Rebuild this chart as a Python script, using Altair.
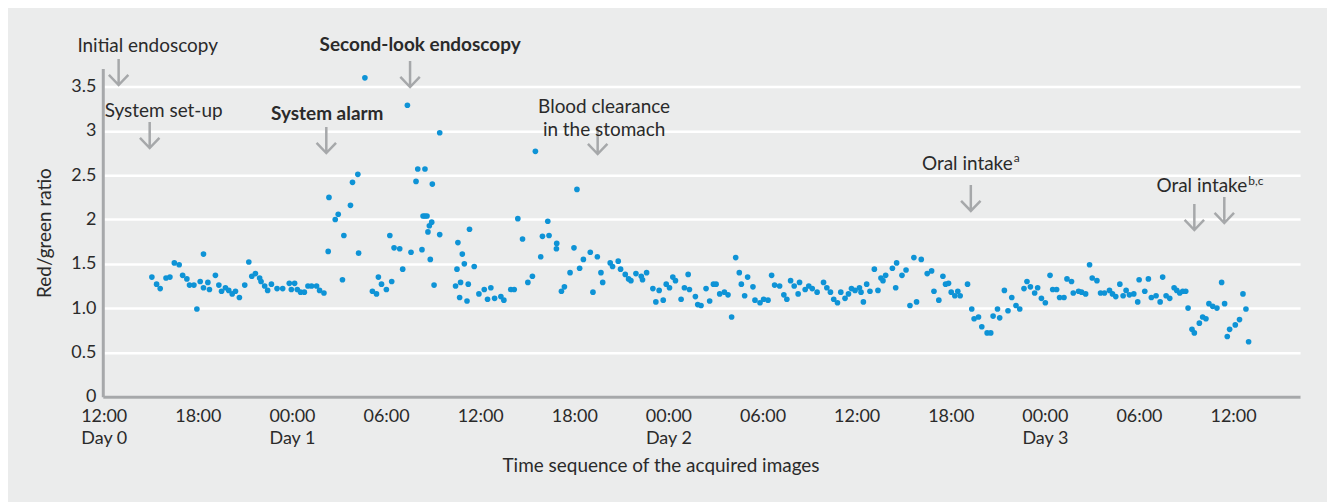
import altair as alt
import pandas as pd

# time since 12:00 on Day 0, in hours
hours = [
    3.07, 3.37, 3.60, 3.97, 4.22, 4.50, 4.81, 5.03, 5.30, 5.47,
    5.75, 5.94, 6.15, 6.36, 6.36, 6.64, 6.74, 7.12, 7.34, 7.51,
    7.76, 7.97, 8.19, 8.40, 8.65, 8.99, 9.25, 9.44, 9.67, 9.94,
    10.03, 10.26, 10.45, 10.69, 11.05, 11.41, 11.83, 11.96, 12.17, 12.34,
    12.55, 12.79, 13.02, 13.25, 13.57, 13.76, 14.04, 14.31,
    14.36, 14.76, 14.95, 15.22, 15.31, 15.73, 15.86, 16.20, 16.25, 16.65,
    17.13, 17.39, 17.51, 17.71, 18.02, 18.24, 18.36, 18.51, 18.87, 19.06,
    19.36, 19.59, 19.91, 20.02, 20.29, 20.36, 20.48, 20.48, 20.61, 20.67,
    20.76, 20.82, 20.91, 20.95, 21.06, 21.42, 21.42, 22.43, 22.52, 22.58,
    22.69, 22.75, 22.86, 22.99, 23.16, 23.24, 23.32, 23.62, 23.92, 24.26,
    24.47, 24.68, 24.92,
    25.32, 25.51, 25.95, 26.17, 26.40, 26.70, 27.04, 27.33, 27.52, 27.86,
    27.97, 28.31, 28.39, 28.88, 28.86, 29.18, 29.37, 29.73, 29.98, 30.17,
    30.34, 30.58, 31.02, 31.19, 31.47, 31.70, 31.81, 32.29, 32.44, 32.80,
    32.95, 33.25, 33.46, 33.61, 33.93, 34.27, 34.35, 34.61,
    35.01, 35.20, 35.41, 35.67, 35.86, 36.07, 36.28, 36.45, 36.81, 37.02,
    37.26, 37.34, 37.72, 37.87, 38.08, 38.40, 38.63, 38.87, 39.04, 39.27,
    39.57, 39.80, 40.03, 40.29, 40.52, 40.65, 40.86, 41.05, 41.39, 41.52,
    41.84, 42.07, 42.35, 42.58, 42.77, 43.09, 43.36, 43.55, 43.79, 44.02,
    44.27, 44.36, 44.72, 44.95, 45.17, 45.48,
    45.89, 46.10, 46.33, 46.54, 46.78, 46.99, 47.26, 47.48, 47.67, 47.90,
    48.18, 48.28, 48.43, 48.64, 48.85, 49.13, 49.36, 49.55, 49.68, 49.85,
    50.28, 50.49, 50.55, 50.89, 51.15, 51.40, 51.65, 51.82, 52.12, 52.50,
    52.78, 52.93, 53.24, 53.50, 53.67, 53.86, 54.03, 54.26, 54.45, 54.60,
    55.07, 55.34, 55.49, 55.77, 55.98, 56.32, 56.55, 56.70, 56.98,
    57.12, 57.42, 57.65, 57.89, 58.16, 58.40, 58.67, 58.86, 59.08, 59.35,
    59.54, 59.78, 60.03, 60.33, 60.50, 60.75, 60.94, 61.22, 61.41, 61.70,
    61.81, 62.15, 62.34, 62.60, 62.85, 63.02, 63.32, 63.55, 63.80, 64.12,
    64.31, 64.52, 64.78, 64.99, 65.18, 65.39, 65.67, 65.92, 66.01, 66.37,
    66.60, 66.79, 67.09,
    67.35, 67.51, 67.73, 67.96, 68.24, 68.41, 68.60, 68.79, 68.98, 69.13,
    69.38, 69.53, 69.85, 70.06, 70.27, 70.46, 70.70, 70.97, 71.27, 71.46,
    71.63, 71.78, 72.14, 72.41, 72.63, 72.82, 72.99,
]

ratio = [
    1.35, 1.27, 1.22, 1.34, 1.35, 1.51, 1.49, 1.37, 1.33, 1.26,
    1.26, 0.99, 1.30, 1.61, 1.23, 1.29, 1.21, 1.37, 1.26, 1.19,
    1.23, 1.20, 1.16, 1.19, 1.12, 1.26, 1.52, 1.36, 1.39, 1.34,
    1.30, 1.25, 1.20, 1.27, 1.22, 1.22, 1.28, 1.21, 1.28, 1.21,
    1.18, 1.18, 1.25, 1.25, 1.25, 1.20, 1.17, 1.64,
    2.25, 2.00, 2.06, 1.32, 1.82, 2.16, 2.42, 2.51, 1.62, 3.60,
    1.19, 1.16, 1.35, 1.27, 1.21, 1.82, 1.30, 1.68, 1.67, 1.44,
    3.29, 1.63, 2.43, 2.57, 1.66, 2.04, 2.57, 2.04, 2.04, 1.86,
    1.93, 1.55, 1.97, 2.40, 1.26, 2.98, 1.83, 1.25, 1.44, 1.74,
    1.12, 1.29, 1.61, 1.50, 1.08, 1.27, 1.89, 1.47, 1.16, 1.21,
    1.10, 1.23, 1.11,
    1.13, 1.09, 1.21, 1.21, 2.01, 1.78, 1.29, 1.36, 2.77, 1.58,
    1.81, 1.98, 1.82, 1.73, 1.67, 1.19, 1.24, 1.40, 1.68, 2.34,
    1.45, 1.55, 1.63, 1.18, 1.58, 1.40, 1.29, 1.51, 1.47, 1.53,
    1.44, 1.38, 1.33, 1.31, 1.39, 1.36, 1.32, 1.40,
    1.22, 1.07, 1.20, 1.09, 1.27, 1.23, 1.35, 1.31, 1.10, 1.23,
    1.38, 1.21, 1.13, 1.04, 1.03, 1.22, 1.08, 1.27, 1.27, 1.16,
    1.18, 1.15, 0.90, 1.57, 1.40, 1.27, 1.14, 1.35, 1.24, 1.09,
    1.06, 1.10, 1.09, 1.37, 1.26, 1.25, 1.15, 1.10, 1.31, 1.25,
    1.16, 1.29, 1.21, 1.25, 1.22, 1.18,
    1.29, 1.23, 1.18, 1.10, 1.06, 1.18, 1.11, 1.16, 1.22, 1.20,
    1.23, 1.18, 1.07, 1.27, 1.19, 1.44, 1.20, 1.34, 1.31, 1.37,
    1.45, 1.23, 1.51, 1.37, 1.43, 1.03, 1.57, 1.07, 1.55, 1.39,
    1.42, 1.19, 1.09, 1.36, 1.27, 1.28, 1.18, 1.14, 1.19, 1.14,
    1.27, 0.99, 0.88, 0.90, 0.79, 0.72, 0.72, 0.91, 0.99,
    0.89, 1.20, 0.97, 1.12, 1.03, 0.99, 1.22, 1.30, 1.24, 1.17,
    1.23, 1.11, 1.06, 1.37, 1.21, 1.21, 1.12, 1.12, 1.33, 1.30,
    1.17, 1.19, 1.18, 1.16, 1.49, 1.34, 1.31, 1.17, 1.17, 1.20,
    1.16, 1.13, 1.27, 1.14, 1.20, 1.15, 1.16, 1.07, 1.32, 1.19,
    1.33, 1.12, 1.14,
    1.07, 1.35, 1.14, 1.11, 1.23, 1.20, 1.17, 1.19, 1.19, 1.00,
    0.76, 0.72, 0.83, 0.90, 0.88, 1.05, 1.02, 1.00, 1.29, 1.05,
    0.68, 0.76, 0.81, 0.87, 1.16, 0.99, 0.62,
]

# event annotations
ann_text = ["Initial endoscopy", "System set-up", "System alarm",
            "Second-look endoscopy", "Blood clearance\nin the stomach"]
ann_x = [2.80, 3.82, 14.25, 20.17, 31.90]
ann_y = [3.958, 3.226, 3.193, 3.969, 3.275]
ann_bold = [False, False, True, True, False]

oral_text = ["Oral intake", "Oral intake"]
oral_x = [57.95, 72.90]
oral_y = [2.627, 2.378]
sup_text = ["a", "b,c"]
sup_x = [58.02, 72.97]
sup_y = [2.69, 2.43]

arrow_x = [0.95, 2.93, 14.19, 19.53, 31.49, 55.28, 69.53, 71.44]
arrow_y = [3.665, 2.954, 2.897, 3.642, 2.886, 2.243, 2.028, 2.107]

x_ticks = [0, 6, 12, 18, 24, 30, 36, 42, 48, 54, 60, 66, 72]
y_ticks = [0, 0.5, 1, 1.5, 2, 2.5, 3, 3.5]

FONT = "Lato"
TXT = "#2a2a2a"
GREY = "#A6A8AA"

pts = pd.DataFrame({"h": hours, "r": ratio})
ann = pd.DataFrame({"t": ann_text, "h": ann_x, "r": ann_y, "b": ann_bold})
oral = pd.DataFrame({"t": oral_text, "h": oral_x, "r": oral_y})
sup = pd.DataFrame({"t": sup_text, "h": sup_x, "r": sup_y})
arr = pd.DataFrame({"h": arrow_x, "r": arrow_y})

xs = alt.Scale(domain=[-0.06, 76.27], nice=False, zero=False)
ys = alt.Scale(domain=[0, 3.706], nice=False)

x_label_expr = (
    "datum.value == 0 ? ['12:00', 'Day 0'] : "
    "datum.value == 12 ? ['00:00', 'Day 1'] : "
    "datum.value == 36 ? ['00:00', 'Day 2'] : "
    "datum.value == 60 ? ['00:00', 'Day 3'] : "
    "['12:00', '18:00', '00:00', '06:00'][(datum.value / 6) % 4]"
)

points = alt.Chart(pts).mark_circle(size=32, color="#0E93D6", opacity=1).encode(
    x=alt.X("h:Q", scale=xs, axis=alt.Axis(
        values=x_ticks, labelExpr=x_label_expr, grid=False, ticks=False,
        tickSize=0, labelPadding=11, labelFlush=False, labelOverlap=False,
        labelFontSize=18, labelLineHeight=22, labelColor=TXT, labelFont=FONT,
        domainColor=GREY, domainWidth=3,
        title="Time sequence of the acquired images", titleFont=FONT,
        titleFontSize=19, titleFontWeight="normal", titleColor=TXT,
        titleX=559, titleY=69, titleBaseline="middle")),
    y=alt.Y("r:Q", scale=ys, axis=alt.Axis(
        values=y_ticks,
        labelExpr="datum.value == 1 ? '1.0' : '' + datum.value",
        grid=True, gridColor="white", gridWidth=2.5, ticks=False, tickSize=0,
        labelPadding=7, labelFontSize=18, labelColor=TXT, labelFont=FONT,
        domainColor=GREY, domainWidth=3,
        title="Red/green ratio", titleFont=FONT, titleFontSize=19,
        titleFontWeight="normal", titleColor=TXT,
        titleX=-58, titleY=164.5, titleBaseline="middle")),
)

arrows = alt.Chart(arr).mark_point(
    shape="M0,-1L0,1M-0.75,0.22L0,1L0.75,0.22", filled=False, size=676,
    stroke=GREY, strokeWidth=2.5, opacity=1,
).encode(x=alt.X("h:Q", scale=xs), y=alt.Y("r:Q", scale=ys))

ann_normal = alt.Chart(ann).transform_filter("!datum.b").mark_text(
    font=FONT, fontSize=19, color=TXT, align="center", baseline="middle",
    lineBreak="\n", lineHeight=23,
).encode(x=alt.X("h:Q", scale=xs), y=alt.Y("r:Q", scale=ys), text="t:N")

ann_bold_l = alt.Chart(ann).transform_filter("datum.b").mark_text(
    font=FONT, fontSize=19, fontWeight="bold", color=TXT, align="center",
    baseline="middle",
).encode(x=alt.X("h:Q", scale=xs), y=alt.Y("r:Q", scale=ys), text="t:N")

oral_l = alt.Chart(oral).mark_text(
    font=FONT, fontSize=19, color=TXT, align="right", baseline="middle",
).encode(x=alt.X("h:Q", scale=xs), y=alt.Y("r:Q", scale=ys), text="t:N")

sup_l = alt.Chart(sup).mark_text(
    font=FONT, fontSize=12, color=TXT, align="left", baseline="middle",
).encode(x=alt.X("h:Q", scale=xs), y=alt.Y("r:Q", scale=ys), text="t:N")

chart = alt.layer(points, arrows, ann_normal, ann_bold_l, oral_l, sup_l).properties(
    width=1200, height=329,
    padding={"left": 95, "top": 60, "right": 27, "bottom": 105},
    autosize=alt.AutoSizeParams(type="none"),
    background="#EBECEC",
).configure_view(stroke=None)

chart.save("out.html", embed_options={"renderer": "svg", "actions": False})
